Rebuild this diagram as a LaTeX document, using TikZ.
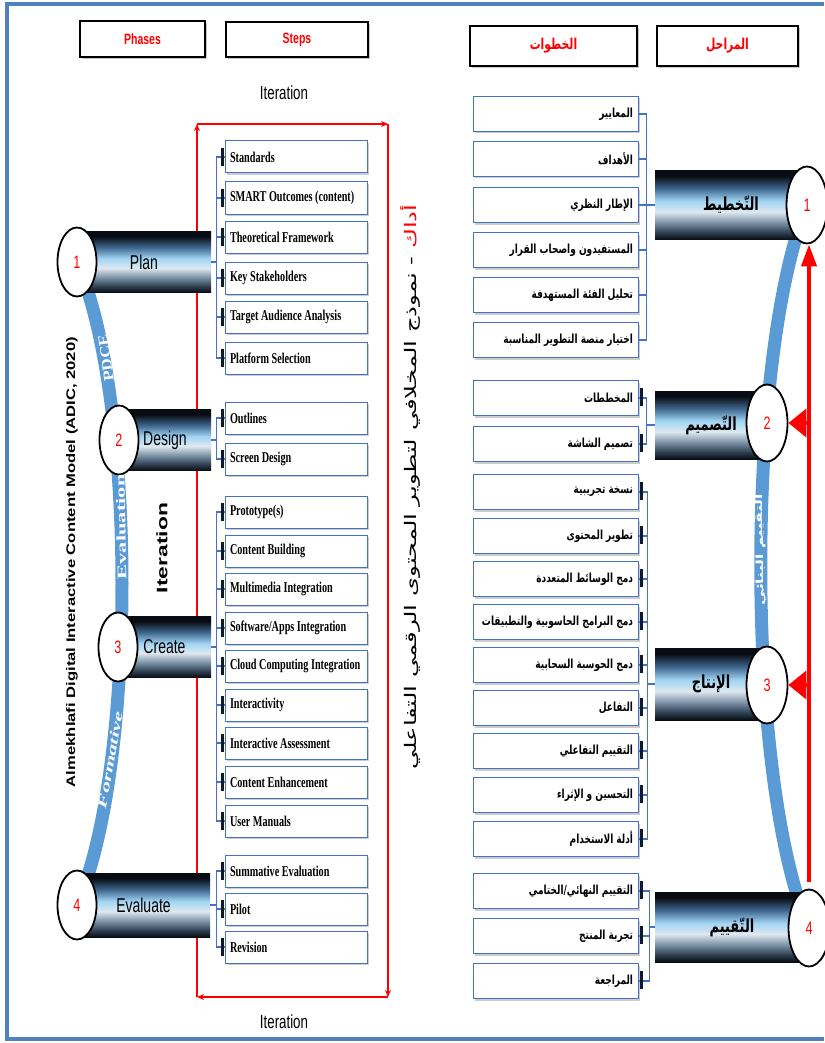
\documentclass[tikz,border=0pt]{standalone}
\usepackage{fontspec}
\usepackage{graphicx}
\usetikzlibrary{shapes.geometric,shadows,arrows.meta,positioning}
\TeXXeTstate=1
\newfontfamily\narrowsans[FakeStretch=0.7]{Liberation Sans}
\newfontfamily\narrowserif[FakeStretch=0.68]{Liberation Serif}
\newfontfamily\arabicfont[Script=Arabic,FakeStretch=0.72]{DejaVu Sans}
\newfontfamily\arabicplain[Script=Arabic]{DejaVu Sans}
\newfontfamily\widesans{Liberation Sans}
\newfontfamily\wideserif{Liberation Serif}
\newcommand\lsteptext[1]{\makebox[132pt][l]{#1}}
\newcommand\rsteptext[1]{\makebox[155pt][r]{\beginR#1\endR}}

\definecolor{arcblue}{RGB}{91,155,213}
\definecolor{boxblue}{RGB}{68,114,196}
\definecolor{frameblue}{RGB}{79,129,189}
\definecolor{marknavy}{RGB}{15,25,45}
\definecolor{bardark}{RGB}{8,12,18}
\definecolor{barmid}{RGB}{45,62,80}
\definecolor{bargrey}{RGB}{120,142,162}
\definecolor{barpale}{RGB}{222,232,240}
\definecolor{barsky}{RGB}{160,212,242}
\definecolor{barsteel}{RGB}{62,102,142}
\pgfdeclareverticalshading{barshade}{100bp}{color(0bp)=(bardark); color(25bp)=(bardark); color(30bp)=(barmid); color(37bp)=(bargrey); color(45bp)=(barpale); color(53bp)=(barsky); color(62bp)=(barsteel); color(71bp)=(bardark); color(100bp)=(bardark)}

\begin{document}
\begin{tikzpicture}[x=1pt,y=-1pt,
    hdrbox/.style={draw=black, line width=1.3pt, fill=white,
        drop shadow={shadow xshift=2pt,shadow yshift=-2.5pt,opacity=0.45},
        inner sep=0pt, text=red},
    stepbox/.style={draw=boxblue, line width=1pt, fill=white,
        drop shadow={shadow xshift=2pt,shadow yshift=-2pt,opacity=0.4},
        minimum height=32pt, inner xsep=5pt, inner ysep=0pt},
    lstepbox/.style={stepbox, minimum width=142pt,
        font=\narrowserif\bfseries\fontsize{15}{15}\selectfont},
    rstepbox/.style={stepbox, minimum width=165pt, minimum height=35pt,
        font=\arabicfont\bfseries\fontsize{12.5}{12.5}\selectfont},
    phasebar/.style={shade, shading=barshade, inner sep=0pt},
    lphasebar/.style={phasebar, font=\narrowsans\fontsize{20}{20}\selectfont},
    rphasebar/.style={phasebar, font=\arabicfont\bfseries\fontsize{18}{18}\selectfont},
    phasenum/.style={ellipse, draw=black, line width=1.8pt, fill=white, inner sep=0pt,
        text=red, font=\narrowsans\fontsize{18}{18}\selectfont},
    arcline/.style={arcblue, line width=13pt},
    treeline/.style={boxblue, line width=1.2pt},
    stepmark/.style={marknavy, line width=3pt},
    iterline/.style={red, line width=1.8pt, -{Stealth[length=7pt,width=6pt]}},
    backarrow/.style={red, line width=4pt},
    frameline/.style={frameblue, line width=4pt}]
\useasboundingbox (0,0) rectangle (824,1043);
\draw[frameline] (824,4) -- (7,4) -- (7,1039) -- (824,1039);

% headers
\node[hdrbox, minimum width=125pt, minimum height=36pt, font=\narrowsans\bfseries\fontsize{15}{15}\selectfont] (hdrphase) at (142.5,39) {Phases};
\node[hdrbox, minimum width=142pt, minimum height=35pt, font=\narrowsans\bfseries\fontsize{15}{15}\selectfont] (hdrstep) at (297,39.5) {Steps};
\node[hdrbox, minimum width=167pt, minimum height=40pt, font=\arabicfont\bfseries\fontsize{15}{15}\selectfont] (hdrkhutuwat) at (553.5,46) {\beginR الخطوات\endR};
\node[hdrbox, minimum width=141pt, minimum height=40pt, font=\arabicfont\bfseries\fontsize{15}{15}\selectfont] (hdrmarahil) at (727.5,46) {\beginR المراحل\endR};

% iteration loop
\node[font=\narrowsans\fontsize{19}{19}\selectfont] (ittop) at (284,93) {Iteration};
\node[font=\narrowsans\fontsize{19}{19}\selectfont] (itbot) at (284,1022) {Iteration};
\coordinate (itnw) at (197,124);
\coordinate (itne) at (388,124);
\coordinate (itse) at (388,997);
\coordinate (itsw) at (197,997);
\draw[iterline] (itsw) -- (itnw);
\draw[iterline] (itnw) -- (itne);
\draw[iterline] (itne) -- (itse);
\draw[iterline] (itse) -- (itsw);

% left phases
\coordinate (lpos1) at (77,262);
\coordinate (lpos2) at (119,440);
\coordinate (lpos3) at (118,647);
\coordinate (lpos4) at (77,905);
\draw[arcline] (lpos1) .. controls (137,400) and (137,767) .. (lpos4);
\node[lphasebar, minimum width=134pt, minimum height=61pt] (lplan) at (144,262) {Plan};
\node[lphasebar, minimum width=92pt, minimum height=61pt] (ldesign) at (165,440) {Design};
\node[lphasebar, minimum width=93pt, minimum height=61pt] (lcreate) at (164.5,647) {Create};
\node[lphasebar, minimum width=133pt, minimum height=64pt] (leval) at (143.5,905) {Evaluate};
\foreach \n/\k in {lpos1/1, lpos2/2, lpos3/3, lpos4/4}
  \node[phasenum, minimum width=39pt, minimum height=69pt] (lnum\k) at (\n) {\k};
\node[rotate=98, text=white] (pdcetxt) at (106,358) {\resizebox{47pt}{9.5pt}{\wideserif\bfseries PDCE}};
\node[rotate=91, text=white] (evaltxt) at (121,527) {\resizebox{105pt}{9pt}{\wideserif\bfseries Evaluation}};
\node[rotate=80, text=white] (formtxt) at (110,760) {\resizebox{98pt}{9pt}{\wideserif\bfseries\itshape Formative}};
\node[rotate=90] (modelname) at (72,562) {\resizebox{450pt}{9pt}{\widesans\bfseries Almekhlafi Digital Interactive Content Model (ADIC, 2020)}};
\node[rotate=90] (itside) at (162,548) {\resizebox{90pt}{11pt}{\widesans\bfseries Iteration}};

% left steps
\foreach \n/\t/\y in {ls1/Standards/157, ls2/{SMART Outcomes (content)}/198,
    ls3/Theoretical Framework/237, ls4/Key Stakeholders/278,
    ls5/Target Audience Analysis/317, ls6/Platform Selection/358,
    ld1/Outlines/418, ld2/Screen Design/459,
    lc1/Prototype(s)/512, lc2/Content Building/551, lc3/Multimedia Integration/589,
    lc4/{Software/Apps Integration}/628, lc5/Cloud Computing Integration/666,
    lc6/Interactivity/705, lc7/Interactive Assessment/743,
    lc8/Content Enhancement/782, lc9/User Manuals/821,
    le1/Summative Evaluation/871, le2/Pilot/909, le3/Revision/947}
  \node[lstepbox] (\n) at (296,\y) {\lsteptext{\t}};
\foreach \n in {ls1,ls2,ls3,ls4,ls5,ls6}
  \draw[treeline] (lplan.east) -- ++(5,0) |- (\n.west);
\foreach \n in {ld1,ld2}
  \draw[treeline] (ldesign.east) -- ++(5,0) |- (\n.west);
\foreach \n in {lc1,lc2,lc3,lc4,lc5,lc6,lc7,lc8,lc9}
  \draw[treeline] (lcreate.east) -- ++(5,0) |- (\n.west);
\foreach \n in {le1,le2,le3}
  \draw[treeline] (leval.east) -- ++(6,0) |- (\n.west);
\foreach \n in {ls1,ls2,ls3,ls4,ls5,ls6,ld1,ld2,lc1,lc2,lc3,lc4,lc5,lc6,lc7,lc8,lc9,le1,le2,le3}
  \draw[stepmark] ([shift={(-2,-9)}]\n.west) -- ([shift={(-2,9)}]\n.west);

% arabic title (rest of the line, then the red word on top)
\node[rotate=90] (arabtitle) at (410,487) {\resizebox{565pt}{16pt}{\arabicplain{\beginR نموذج المخلافي لتطوير المحتوى الرقمي التفاعلي\endR} - {\color{red}\beginR أداك\endR}}};

% right phases
\coordinate (rpos1) at (807,205);
\coordinate (rpos2) at (767,423);
\coordinate (rpos3) at (767,685);
\coordinate (rpos4) at (809,928);
\draw[arcline] (rpos1) .. controls (745,360) and (745,780) .. (rpos4);
\node[rphasebar, minimum width=152pt, minimum height=69pt] (rplan) at (731,205) {\beginR التّخطيط\endR};
\node[rphasebar, minimum width=112pt, minimum height=68pt] (rdesign) at (711,425) {\beginR التّصميم\endR};
\node[rphasebar, minimum width=112pt, minimum height=72pt] (rcreate) at (711,684) {\beginR الإنتاج\endR};
\node[rphasebar, minimum width=154pt, minimum height=70pt] (reval) at (732,927) {\beginR التّقييم\endR};
\foreach \n/\k in {rpos1/1, rpos2/2, rpos3/3, rpos4/4}
  \node[phasenum, minimum width=41pt, minimum height=77pt] (rnum\k) at (\n) {\k};
\node[rotate=91, text=white] (binaitxt) at (760.5,550) {\resizebox{112pt}{7.5pt}{\arabicplain\bfseries\beginR التقييم البنائي\endR}};

% red back arrow
\coordinate (rarrowfoot) at (809,882);
\draw[backarrow, -{Triangle[length=22pt,width=15pt]}] (rarrowfoot) -- (rarrowfoot |- rnum1.south);
\draw[backarrow, -{Triangle[length=18pt,width=28pt]}] (rarrowfoot |- rnum2) -- (rnum2.east);
\draw[backarrow, -{Triangle[length=18pt,width=28pt]}] (rarrowfoot |- rnum3) -- (rnum3.east);

% right steps
\foreach \n/\t/\y in {rs1/المعايير/114, rs2/الأهداف/159, rs3/الإطار النظري/205,
    rs4/المستفيدون واصحاب القرار/250, rs5/تحليل الفئة المستهدفة/295,
    rs6/اختيار منصة التطوير المناسبة/340,
    rd1/المخططات/398, rd2/تصميم الشاشة/444,
    rc1/نسخة تجريبية/492, rc2/تطوير المحتوى/536, rc3/دمج الوسائط المتعددة/579,
    rc4/دمج البرامج الحاسوبية والتطبيقات/622, rc5/دمج الحوسبة السحابية/665,
    rc6/التفاعل/708, rc7/التقييم التفاعلي/751, rc8/التحسين و الإثراء/795,
    rc9/أدلة الاستخدام/839,
    re1/{التقييم النهائي/الختامي}/891, re2/تجربة المنتج/936, re3/المراجعة/981}
  \node[rstepbox] (\n) at (555.5,\y) {\rsteptext{\t}};
\foreach \n in {rs1,rs2,rs3,rs4,rs5,rs6}
  \draw[treeline] (rplan.west) -- ++(-8,0) |- (\n.east);
\foreach \n in {rd1,rd2}
  \draw[treeline] (rdesign.west) -- ++(-8,0) |- (\n.east);
\foreach \n in {rc1,rc2,rc3,rc4,rc5,rc6,rc7,rc8,rc9}
  \draw[treeline] (rcreate.west) -- ++(-7,0) |- (\n.east);
\foreach \n in {re1,re2,re3}
  \draw[treeline] (reval.west) -- ++(-5,0) |- (\n.east);
\foreach \n in {rd1,rd2,rc1,rc2,rc3,rc4,rc5,rc6,rc7,rc8,rc9,re1,re2,re3}
  \draw[stepmark] ([shift={(2.5,-10)}]\n.east) -- ([shift={(2.5,8)}]\n.east);
\end{tikzpicture}
\end{document}
